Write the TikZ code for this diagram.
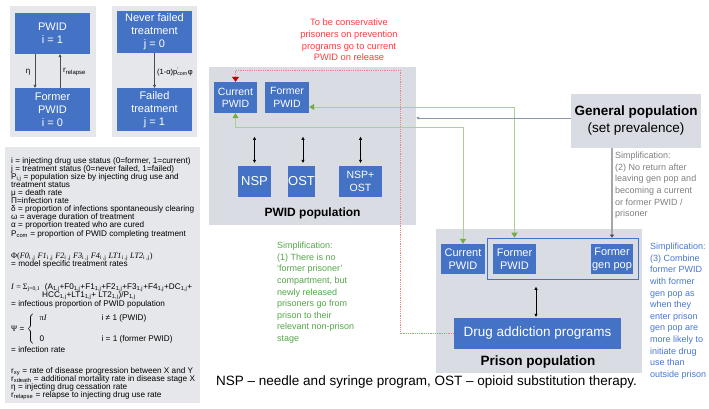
\documentclass[tikz,border=0pt]{standalone}
\usepackage{fontspec}
\setmainfont{Liberation Sans}
\newfontfamily\serif{Liberation Serif}
\usetikzlibrary{positioning,arrows.meta,fit,calc}

\definecolor{boxblue}{RGB}{68,114,196}
\definecolor{panelgray}{RGB}{217,220,227}
\definecolor{keygray}{RGB}{230,231,235}
\definecolor{linegreen}{RGB}{169,209,142}
\definecolor{headgreen}{RGB}{112,173,71}
\definecolor{notegreen}{RGB}{84,166,72}
\definecolor{noteblue}{RGB}{72,118,210}
\definecolor{notegray}{RGB}{127,127,127}
\definecolor{notered}{RGB}{255,60,60}
\definecolor{dotred}{RGB}{238,130,130}
\definecolor{headred}{RGB}{192,0,0}
\definecolor{slate}{RGB}{132,150,176}

\newcommand\legfont{\fontsize{8.2}{8.1}\selectfont\lineskiplimit=-20pt}

\begin{document}
\begin{tikzpicture}[x=1pt, y=-1pt,
  box/.style={fill=boxblue, text=white, align=center, inner sep=0pt,
              font=\fontsize{11}{13}\selectfont},
  panel/.style={fill=panelgray, inner sep=0pt},
  keypanel/.style={fill=keygray, inner sep=0pt},
  arr/.style={-{Triangle[length=3pt,width=3pt]}, draw=black!70, line width=0.6pt},
  darr/.style={{Triangle[length=3pt,width=3pt]}-{Triangle[length=3pt,width=3pt]}, line width=0.5pt},
  gboth/.style={draw=linegreen, line width=0.8pt,
                {Triangle[length=5pt,width=6pt,color=headgreen]}-{Triangle[length=5pt,width=6pt,color=headgreen]}},
  reddot/.style={draw=dotred, densely dotted, line width=0.8pt,
                 -{Triangle[length=5pt,width=7pt,color=headred]}},
  note/.style={align=left, anchor=north west, inner sep=0pt,
               font=\fontsize{9}{11.6}\selectfont},
  legend/.style={align=left, anchor=north west, inner sep=0pt, font=\legfont},
  lbl/.style={font=\fontsize{8}{9}\selectfont, inner sep=0pt}
]
\useasboundingbox (0,0) rectangle (709,408);

% panels
\node[keypanel, minimum width=86pt, minimum height=131pt] (idupanel) at (53,71.5) {};
\node[keypanel, minimum width=85pt, minimum height=131pt] (trtpanel) at (154.5,71.5) {};
\node[keypanel, minimum width=195pt, minimum height=256pt] (keypanel) at (102.5,275) {};
\node[panel, minimum width=207pt, minimum height=158pt] (pwidpop) at (312.5,146) {};
\node[panel, minimum width=206pt, minimum height=144pt] (prison) at (539,301) {};
\node[panel, minimum width=130pt, minimum height=54pt, align=center,
      font=\fontsize{13.5}{17}\selectfont] (genpop) at (636,121)
  {\textbf{General population}\\(set prevalence)};

% injecting status and treatment status
\node[box, minimum width=75pt, minimum height=41pt] (pwid) at (52.5,33.5) {PWID\\i = 1};
\node[box, minimum width=75pt, minimum height=43pt] (expwid) at (52.5,109.5) {Former\\PWID\\i = 0};
\node[box, minimum width=75pt, minimum height=42pt] (nofail) at (154.5,32) {Never failed\\treatment\\j = 0};
\node[box, minimum width=75pt, minimum height=43pt] (failed) at (154.5,109.5) {Failed\\treatment\\j = 1};

\draw[arr] ([xshift=-17.5pt]pwid.south) -- ([xshift=-17.5pt]expwid.north);
\draw[arr] ([xshift=7.5pt]expwid.north) -- ([xshift=7.5pt]pwid.south);
\draw[arr] (nofail.south) -- (failed.north);
\node[lbl] (etalbl) at (28,72) {η};
\node[lbl, anchor=west] (relapselbl) at (63,72) {r\textsubscript{relapse}};
\node[lbl, anchor=west, font=\fontsize{7.5}{9}\selectfont] (faillbl) at (157,72)
  {(1-α)p\rlap{\textsuperscript{'}}\textsubscript{com}φ};

% key
\node[legend] (deflist) at (11,157) {%
i = injecting drug use status (0=former, 1=current)\\
j = treatment status (0=never failed, 1=failed)\\
P\textsubscript{i,j} = population size by injecting drug use and\\
treatment status\\
μ = death rate\\
Π=infection rate\\
δ = proportion of infections spontaneously clearing\\
ω = average duration of treatment\\
α = proportion treated who are cured\\
P\textsubscript{com} = proportion of PWID completing treatment};
\node[legend] (philine) at (11,253) {%
{\serif Φ(\textit{F0}\textsubscript{i ,j}\ \textit{F1}\textsubscript{i ,j}\ \textit{F2}\textsubscript{i ,j}\ 
 \textit{F3}\textsubscript{i ,j}\ \textit{F4}\textsubscript{i ,j}\ \textit{LT1}\textsubscript{i ,j}\ 
 \textit{LT2}\textsubscript{i ,j})}\\
= model specific treatment rates};
\node[legend] (infline) at (11,283) {%
{\serif\textit{I} = Σ\textsubscript{j=0,1}}\ \ (A\textsubscript{1,j}+F0\textsubscript{1,j}+F1\textsubscript{1,j}+F2\textsubscript{1,j}+F3\textsubscript{1,j}+F4\textsubscript{1,j}+DC\textsubscript{1,j}+\\
\hspace*{31pt}HCC\textsubscript{1,j}+LT1\textsubscript{1,j}+ LT2\textsubscript{1,j})/P\textsubscript{1,j}\\[1.5pt]
= infectious proportion of PWID population};
\node[legend, anchor=west] (psiblk) at (11,329) {%
\lineskiplimit=0pt
{\serif Ψ} = $\Biggl\{\begin{tabular}{@{\hspace{5pt}}p{50pt}l@{}}
{\serif π\textit{I}} & i ≠ 1 (PWID)\\[13pt]
0 & i = 1 (former PWID)
\end{tabular}$};
\node[legend] (rateline) at (11,346) {= infection rate};
\node[legend] (ratelist) at (11,367) {%
r\textsubscript{xy} = rate of disease progression between X and Y\\
r\textsubscript{xdeath} = additional mortality rate in disease stage X\\
η = injecting drug cessation rate\\
r\textsubscript{relapse} = relapse to injecting drug use rate};

% PWID population
\node[box, minimum width=43pt, minimum height=31pt, font=\fontsize{10.5}{12.3}\selectfont] (curr) at (235.5,97.5) {Current\\PWID};
\node[box, minimum width=44pt, minimum height=31pt, font=\fontsize{10.5}{12.3}\selectfont] (former) at (287,97.5) {Former\\PWID};
\node[box, minimum width=33pt, minimum height=31pt, font=\fontsize{13}{15}\selectfont] (nsp) at (254.5,181.5) {NSP};
\node[box, minimum width=27pt, minimum height=31pt, font=\fontsize{13}{15}\selectfont] (ost) at (301.5,181.5) {OST};
\node[box, minimum width=43pt, minimum height=31pt, font=\fontsize{10.5}{12.3}\selectfont] (nspost) at (360.5,181.5) {NSP+\\OST};
\node[font=\bfseries\fontsize{12}{14}\selectfont] (pwidlbl) at (312.5,213) {PWID population};

\draw[darr] ([yshift=3pt]nsp.north) -- ([yshift=29pt]nsp.north);
\draw[darr] ([yshift=3pt,xshift=1.5pt]ost.north) -- ([yshift=29pt,xshift=1.5pt]ost.north);
\draw[darr] ([yshift=3pt]nspost.north) -- ([yshift=29pt]nspost.north);

% prison population
\node[box, minimum width=44pt, minimum height=30pt] (pcurr) at (463,259) {Current\\PWID};
\node[box, minimum width=43pt, minimum height=30pt] (pformer) at (514.5,259) {Former\\PWID};
\node[box, minimum width=42pt, minimum height=30pt] (pgenpop) at (612,259) {Former\\gen pop};
\node[draw=boxblue, line width=1.2pt, fit=(pformer)(pgenpop), inner sep=5.5pt] (ppool) {};
\node[box, minimum width=167pt, minimum height=31pt, font=\fontsize{13.5}{16}\selectfont] (drug) at (537.5,333.5) {Drug addiction programs};
\node[font=\bfseries\fontsize{13.5}{16}\selectfont] (prisonlbl) at (538,362) {Prison population};

\draw[darr] ([yshift=1pt,xshift=-1.5pt]drug.north) -- ([yshift=31pt,xshift=-1.5pt]drug.north);

% flows between populations
\coordinate (redturn) at (400,70);
\draw[reddot] (drug.west) -| (redturn) -| (curr.north);
\draw[gboth] ([yshift=-9.5pt]former.east) -| (pformer.north |- ppool.north);
\draw[gboth] (curr.south) -- ++(0,14) -| (pcurr.north);
\draw[draw=slate, line width=0.7pt, -{Triangle[length=3pt,width=3pt]}]
  ([yshift=3pt]genpop.west) -- ([yshift=3pt]genpop.west -| pwidpop.east);
\draw[draw=black!35, line width=1.4pt, -{Triangle[length=3pt,width=4pt,color=black!70]}]
  (pgenpop.north |- genpop.south) -- (pgenpop.north |- ppool.north);

% notes
\node[align=center, inner sep=0pt, text=notered, font=\fontsize{9.3}{11.6}\selectfont] (rednote) at (349,40)
  {To be conservative\\prisoners on prevention\\programs go to current\\PWID on release};
\node[note, text=notegreen] (simple1) at (277,242)
  {Simplification:\\(1) There is no\\‘former prisoner’\\compartment, but\\newly released\\prisoners go from\\prison to their\\relevant non-prison\\stage};
\node[note, text=notegray] (simple2) at (615,152)
  {Simplification:\\(2) No return after\\leaving gen pop and\\becoming a current\\or former PWID /\\prisoner};
\node[note, text=noteblue] (simple3) at (650,243)
  {Simplification:\\(3) Combine\\former PWID\\with former\\gen pop as\\when they\\enter prison\\gen pop are\\more likely to\\initiate drug\\use than\\outside prison};
\node[anchor=west, inner sep=0pt, font=\fontsize{13.5}{16}\selectfont] (footnote) at (216,382)
  {NSP – needle and syringe program, OST – opioid substitution therapy.};
\end{tikzpicture}
\end{document}
